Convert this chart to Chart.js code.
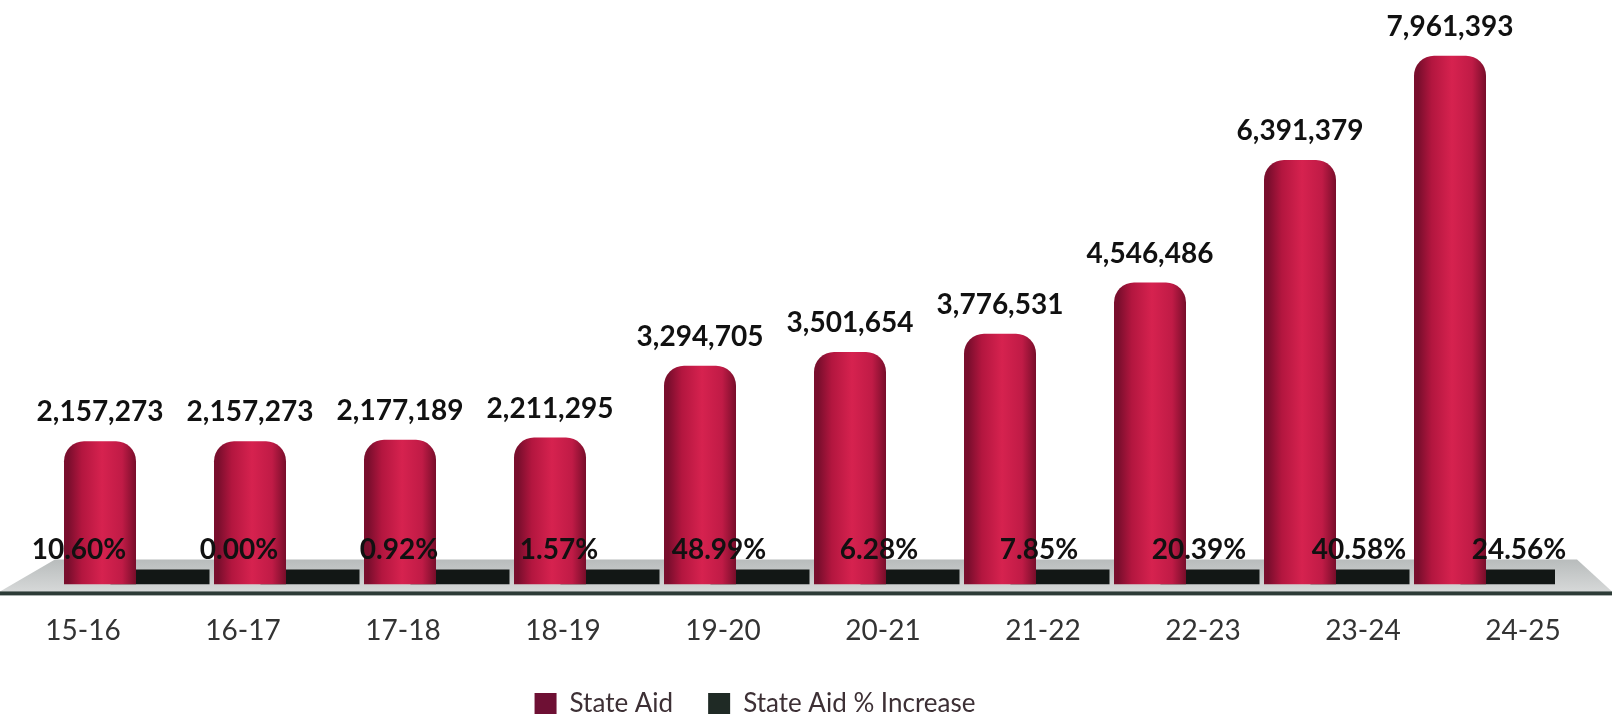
<!DOCTYPE html>
<html>
<head>
    <title>State Aid</title>
    <script src="https://cdn.jsdelivr.net/npm/chart.js"></script>
    <style>
        body { margin: 0; background: #ffffff; }
    </style>
</head>
<body>
    <canvas id="chart" width="1612" height="714"></canvas>

    <script>
        // Données
        const categories = ['15-16', '16-17', '17-18', '18-19', '19-20', '20-21', '21-22', '22-23', '23-24', '24-25'];
        const stateAid = [2157273, 2157273, 2177189, 2211295, 3294705, 3501654, 3776531, 4546486, 6391379, 7961393];
        const stateAidPct = [10.60, 0.00, 0.92, 1.57, 48.99, 6.28, 7.85, 20.39, 40.58, 24.56];
        const tickLabels = categories;

        const CAT_PCT = 0.747;
        const FONT = 'Lato, "Open Sans", sans-serif';

        // dégradé horizontal pour donner un effet cylindre
        function barFill(ctx) {
            const chart = ctx.chart;
            const sc = chart.scales.x;
            if (!chart.chartArea || !sc || !sc.width) return '#c41c4a';
            const slot = sc.width / categories.length * CAT_PCT / 2;
            const cx = sc.getPixelForValue(ctx.dataIndex) - slot / 2;
            const w = slot * 1.2;
            const g = chart.ctx.createLinearGradient(cx - w / 2, 0, cx + w / 2, 0);
            g.addColorStop(0, '#7a0e2d');
            g.addColorStop(0.2, '#b3163f');
            g.addColorStop(0.5, '#d6224f');
            g.addColorStop(0.8, '#c01b46');
            g.addColorStop(1, '#7a0e2b');
            return g;
        }

        // sol gris sous les barres
        const floorPlugin = {
            id: 'floor',
            beforeDatasetsDraw(chart) {
                const { ctx, chartArea, width } = chart;
                const b = chartArea.bottom;
                ctx.save();
                const g = ctx.createLinearGradient(0, b - 25, 0, b + 7);
                g.addColorStop(0, '#b8bcbc');
                g.addColorStop(1, '#d6d8d8');
                ctx.fillStyle = g;
                ctx.beginPath();
                ctx.moveTo(chartArea.left, b - 25);
                ctx.lineTo(chartArea.right + 22, b - 25);
                ctx.lineTo(width, b + 7);
                ctx.lineTo(0, b + 7);
                ctx.closePath();
                ctx.fill();
                ctx.fillStyle = '#2c3b36';
                ctx.fillRect(0, b + 7, width, 4);
                ctx.restore();
            }
        };

        // étiquettes de valeurs
        const labelPlugin = {
            id: 'valueLabels',
            afterDatasetsDraw(chart) {
                const ctx = chart.ctx;
                const bars = chart.getDatasetMeta(0).data;
                const xl = chart.scales.xl;
                ctx.save();
                ctx.fillStyle = '#111111';
                ctx.textAlign = 'center';
                ctx.font = 'bold 28px ' + FONT;
                ctx.textBaseline = 'alphabetic';
                bars.forEach((bar, i) => {
                    ctx.fillText(stateAid[i].toLocaleString('en-US'), bar.x, bar.y - 20);
                });
                ctx.textBaseline = 'middle';
                stateAidPct.forEach((v, i) => {
                    ctx.fillText(v.toFixed(2) + '%', xl.getPixelForValue(i) - 4, chart.chartArea.bottom - 34);
                });
                ctx.restore();
            }
        };

        // décale la légende comme sur l'original
        const legendShift = {
            id: 'legendShift',
            afterLayout(chart) {
                const lg = chart.legend;
                lg.left -= 50;
                lg.right -= 50;
                lg.top -= 22;
                lg.bottom -= 22;
            }
        };

        const chart = new Chart(document.getElementById('chart').getContext('2d'), {
            type: 'bar',
            data: {
                labels: categories,
                datasets: [
                    {
                        label: 'State Aid',
                        data: stateAid,
                        backgroundColor: barFill,
                        borderRadius: { topLeft: 20, topRight: 20 },
                        borderSkipped: 'bottom',
                        barPercentage: 1.2,
                        xAxisID: 'x',
                        yAxisID: 'y'
                    },
                    {
                        label: 'State Aid % Increase',
                        data: stateAidPct,
                        backgroundColor: '#121715',
                        minBarLength: 15,
                        barPercentage: 1.65,
                        xAxisID: 'x',
                        yAxisID: 'y'
                    }
                ]
            },
            options: {
                responsive: false,
                animation: false,
                layout: { padding: { top: 20, left: 55, right: 57, bottom: -35 } },
                scales: {
                    x: {
                        display: false,
                        categoryPercentage: CAT_PCT
                    },
                    xl: {
                        type: 'linear',
                        position: 'bottom',
                        offset: false,
                        min: -0.175,
                        max: 9.2,
                        grid: { display: false, drawTicks: false, offset: false },
                        border: { display: false },
                        ticks: {
                            stepSize: 1,
                            includeBounds: false,
                            autoSkip: false,
                            maxRotation: 0,
                            padding: 30,
                            color: '#333333',
                            font: { family: FONT, size: 28 },
                            callback: v => tickLabels[v] ?? ''
                        }
                    },
                    y: {
                        display: false,
                        min: 0,
                        max: 8500000
                    }
                },
                plugins: {
                    legend: {
                        position: 'bottom',
                        labels: {
                            boxWidth: 22,
                            boxHeight: 22,
                            padding: 35,
                            color: '#3d3035',
                            font: { family: FONT, size: 26 },
                            generateLabels(chart) {
                                const items = Chart.defaults.plugins.legend.labels.generateLabels(chart);
                                items[0].fillStyle = '#6e1034';
                                items[1].fillStyle = '#1f2a25';
                                items.forEach(it => { it.lineWidth = 0; it.strokeStyle = 'transparent'; });
                                return items;
                            }
                        }
                    },
                    tooltip: { enabled: false }
                }
            },
            plugins: [floorPlugin, labelPlugin, legendShift]
        });
    </script>
</body>
</html>
